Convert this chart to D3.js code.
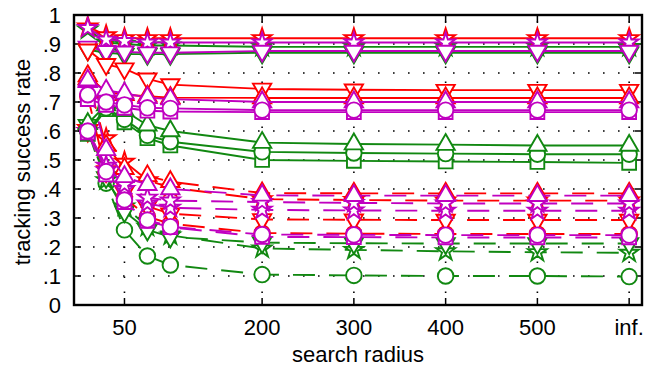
<!DOCTYPE html>
<meta charset="utf-8">
<title>Tracking success rate</title>
<style>

body {
  margin: 0;
  background: #fff;
}
text {
  font-family: "Liberation Sans", Arial, sans-serif;
}

</style>
<body>
</body>
<script src="https://cdn.jsdelivr.net/npm/d3@7"></script>
<script>

var width = 649,
    height = 368;

// plot box, in pixels (window.top is taken, so prefix them)
var boxLeft = 74, boxRight = 642, boxTop = 15, boxBottom = 305;

var red = "#ff0000", magenta = "#c000c0", green = "#118811";

// x values (inf. is drawn at 600)
var radius = [10, 30, 50, 75, 100, 200, 300, 400, 500, 600];
var xTicks = [50, 200, 300, 400, 500, 600];
var xTickLabels = ["50", "200", "300", "400", "500", "inf."];
var yTicks = [0, .1, .2, .3, .4, .5, .6, .7, .8, .9, 1];
var yTickLabels = ["0", ".1", ".2", ".3", ".4", ".5", ".6", ".7", ".8", ".9", "1"];

// solid lines
var solidGreenStar   = [0.95, 0.905, 0.90, 0.895, 0.895, 0.89, 0.89, 0.89, 0.89, 0.89];
var solidGreenDown   = [0.88, 0.87, 0.865, 0.865, 0.865, 0.87, 0.87, 0.87, 0.87, 0.87];
var solidRedStar     = [0.96, 0.93, 0.92, 0.92, 0.92, 0.92, 0.92, 0.92, 0.92, 0.92];
var solidMagStar     = [0.955, 0.915, 0.91, 0.905, 0.905, 0.905, 0.905, 0.905, 0.905, 0.905];
var solidMagDown     = [0.89, 0.875, 0.873, 0.87, 0.87, 0.876, 0.876, 0.876, 0.876, 0.876];
var solidRedDown     = [0.88, 0.83, 0.815, 0.78, 0.76, 0.745, 0.742, 0.741, 0.741, 0.741];
var solidRedUp       = [0.79, 0.735, 0.725, 0.72, 0.715, 0.714, 0.714, 0.714, 0.714, 0.714];
var solidMagUp       = [0.775, 0.74, 0.73, 0.715, 0.71, 0.70, 0.70, 0.70, 0.70, 0.70];
var solidMagCircle   = [0.725, 0.70, 0.69, 0.68, 0.678, 0.672, 0.672, 0.672, 0.672, 0.672];
var solidMagSquare   = [0.71, 0.69, 0.68, 0.67, 0.667, 0.665, 0.665, 0.665, 0.665, 0.665];
var solidGreenSquare = [0.59, 0.675, 0.63, 0.575, 0.55, 0.50, 0.497, 0.495, 0.493, 0.49];
var solidGreenCircle = [0.60, 0.68, 0.64, 0.585, 0.563, 0.528, 0.524, 0.522, 0.52, 0.52];
var solidGreenUp     = [0.625, 0.69, 0.67, 0.62, 0.60, 0.56, 0.555, 0.553, 0.55, 0.55];

// dashed lines
var dashGreenCircle = [0.60, 0.42, 0.259, 0.169, 0.138, 0.105, 0.102, 0.10, 0.10, 0.098];
var dashGreenStar   = [0.60, 0.43, 0.34, 0.27, 0.24, 0.195, 0.19, 0.185, 0.182, 0.18];
var dashGreenDown   = [0.62, 0.44, 0.322, 0.259, 0.235, 0.215, 0.213, 0.212, 0.212, 0.212];
var dashRedCircle   = [0.72, 0.455, 0.37, 0.305, 0.28, 0.248, 0.246, 0.245, 0.245, 0.245];
var dashRedDown     = [0.60, 0.46, 0.39, 0.34, 0.315, 0.295, 0.294, 0.293, 0.293, 0.293];
var dashRedStar     = [0.61, 0.575, 0.494, 0.43, 0.405, 0.365, 0.362, 0.36, 0.36, 0.36];
var dashRedUp       = [0.78, 0.55, 0.47, 0.445, 0.425, 0.386, 0.385, 0.385, 0.385, 0.385];
var dashMagSquare   = [0.595, 0.45, 0.355, 0.29, 0.268, 0.235, 0.234, 0.233, 0.233, 0.233];
var dashMagCircle   = [0.60, 0.46, 0.362, 0.293, 0.27, 0.243, 0.242, 0.241, 0.241, 0.241];
var dashMagStar2    = [0.60, 0.465, 0.40, 0.35, 0.335, 0.328, 0.326, 0.325, 0.325, 0.325];
var dashMagStar     = [0.60, 0.48, 0.415, 0.37, 0.36, 0.355, 0.352, 0.35, 0.35, 0.35];
var dashMagUp       = [0.77, 0.535, 0.442, 0.415, 0.40, 0.378, 0.377, 0.377, 0.377, 0.377];

// drawing order: first in list is drawn first (underneath)
var series = [
  {v: dashGreenCircle, c: green,   m: "circle", dash: "22,14", off: 0},
  {v: dashGreenStar,   c: green,   m: "star",   dash: "22,14", off: 9},
  {v: dashGreenDown,   c: green,   m: "down",   dash: "22,14", off: 17},
  {v: dashRedCircle,   c: red,     m: "circle", dash: "22,14", off: 4},
  {v: dashRedDown,     c: red,     m: "down",   dash: "22,14", off: 12},
  {v: dashRedStar,     c: red,     m: "star",   dash: "22,14", off: 20},
  {v: dashRedUp,       c: red,     m: "up",     dash: "22,14", off: 27},
  {v: dashMagStar2,    c: magenta, m: "star",   dash: "22,14", off: 15},
  {v: dashMagStar,     c: magenta, m: "star",   dash: "22,14", off: 24},
  {v: dashMagUp,       c: magenta, m: "up",     dash: "22,14", off: 31},

  {v: solidGreenSquare, c: green,   m: "square"},
  {v: solidGreenCircle, c: green,   m: "circle"},
  {v: solidGreenUp,     c: green,   m: "up"},

  {v: dashMagSquare,   c: magenta, m: "square", dash: "22,14", off: 2},
  {v: dashMagCircle,   c: magenta, m: "circle", dash: "22,14", off: 8},

  {v: solidGreenStar,   c: green,   m: "star"},
  {v: solidGreenDown,   c: green,   m: "down"},
  {v: solidRedStar,     c: red,     m: "star"},
  {v: solidMagStar,     c: magenta, m: "star"},
  {v: solidMagDown,     c: magenta, m: "down"},
  {v: solidRedDown,     c: red,     m: "down"},
  {v: solidRedUp,       c: red,     m: "up"},
  {v: solidMagUp,       c: magenta, m: "up"},
  {v: solidMagSquare,   c: magenta, m: "square"},
  {v: solidMagCircle,   c: magenta, m: "circle"}
];

var x = d3.scaleLinear().domain([-5, 614]).range([boxLeft, boxRight]);
var y = d3.scaleLinear().domain([0, 1]).range([boxBottom, boxTop]);

var svg = d3.select("body").append("svg")
    .attr("width", width)
    .attr("height", height);

// dotted grid
var grid = svg.append("g")
    .attr("stroke", "#000")
    .attr("stroke-width", 1.6)
    .attr("stroke-dasharray", "1.6,13.4");

grid.selectAll("line.h")
    .data(yTicks.slice(1, -1))
  .enter().append("line")
    .attr("class", "h")
    .attr("x1", boxLeft + 4).attr("x2", boxRight)
    .attr("y1", function(d) { return y(d); })
    .attr("y2", function(d) { return y(d); });

grid.selectAll("line.v")
    .data(xTicks.slice())
  .enter().append("line")
    .attr("class", "v")
    .attr("x1", function(d) { return x(d); })
    .attr("x2", function(d) { return x(d); })
    .attr("y1", boxBottom - 12).attr("y2", boxTop);

// ticks, all pointing inwards
var ticks = svg.append("g").attr("stroke", "#000").attr("stroke-width", 1.5);

ticks.selectAll("line.yl")
    .data(yTicks)
  .enter().append("line")
    .attr("x1", boxLeft).attr("x2", boxLeft + 7)
    .attr("y1", function(d) { return y(d); })
    .attr("y2", function(d) { return y(d); });

ticks.selectAll("line.yr")
    .data(yTicks)
  .enter().append("line")
    .attr("x1", boxRight).attr("x2", boxRight - 7)
    .attr("y1", function(d) { return y(d); })
    .attr("y2", function(d) { return y(d); });

ticks.selectAll("line.xb")
    .data(xTicks)
  .enter().append("line")
    .attr("x1", function(d) { return x(d); })
    .attr("x2", function(d) { return x(d); })
    .attr("y1", boxBottom).attr("y2", boxBottom - 7);

ticks.selectAll("line.xt")
    .data(xTicks)
  .enter().append("line")
    .attr("x1", function(d) { return x(d); })
    .attr("x2", function(d) { return x(d); })
    .attr("y1", boxTop).attr("y2", boxTop + 7);

// the lines
var line = d3.line()
    .x(function(d, i) { return x(radius[i]); })
    .y(function(d) { return y(d); });

var shapes = {
  circle: d3.symbol().type(d3.symbolCircle).size(190),
  square: d3.symbol().type(d3.symbolSquare).size(190),
  up:     d3.symbol().type(d3.symbolTriangle).size(145),
  down:   d3.symbol().type(d3.symbolTriangle).size(145),
  star:   d3.symbol().type(d3.symbolStar).size(110)
};

var plot = svg.append("g");

series.forEach(function(s) {
  var g = plot.append("g");

  g.append("path")
      .attr("d", line(s.v))
      .attr("fill", "none")
      .attr("stroke", s.c)
      .attr("stroke-width", 1.9)
      .attr("stroke-dasharray", s.dash || null)
      .attr("stroke-dashoffset", s.off || 0);

  g.selectAll("path.mark")
      .data(s.v)
    .enter().append("path")
      .attr("class", "mark")
      .attr("d", shapes[s.m]())
      .attr("transform", function(d, i) {
        return "translate(" + x(radius[i]) + "," + y(d) + ")" +
            (s.m == "down" ? " rotate(180)" : "");
      })
      .attr("fill", "#fff")
      .attr("stroke", s.c)
      .attr("stroke-width", 1.9);
});

// frame
svg.append("rect")
    .attr("x", boxLeft).attr("y", boxTop)
    .attr("width", boxRight - boxLeft).attr("height", boxBottom - boxTop)
    .attr("fill", "none")
    .attr("stroke", "#000")
    .attr("stroke-width", 2.4);

// tick labels
svg.selectAll("text.yl")
    .data(yTicks)
  .enter().append("text")
    .attr("x", 61)
    .attr("y", function(d) { return y(d) + 8; })
    .attr("text-anchor", "end")
    .attr("font-size", 22)
    .text(function(d, i) { return yTickLabels[i]; });

svg.selectAll("text.xl")
    .data(xTicks)
  .enter().append("text")
    .attr("x", function(d) { return x(d); })
    .attr("y", 335)
    .attr("text-anchor", "middle")
    .attr("font-size", 22)
    .text(function(d, i) { return xTickLabels[i]; });

// axis titles
svg.append("text")
    .attr("x", (boxLeft + boxRight) / 2)
    .attr("y", 362)
    .attr("text-anchor", "middle")
    .attr("font-size", 22)
    .text("search radius");

svg.append("text")
    .attr("transform", "translate(30," + ((boxTop + boxBottom) / 2 + 2) + ") rotate(-90)")
    .attr("text-anchor", "middle")
    .attr("font-size", 22)
    .text("tracking success rate");

</script>
